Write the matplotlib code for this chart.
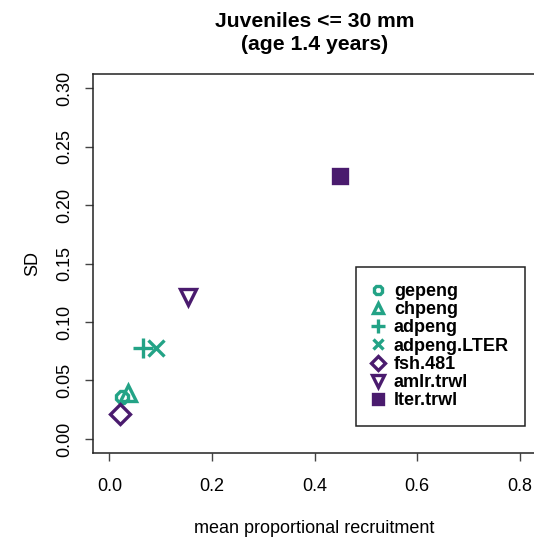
import matplotlib
matplotlib.use("Agg")
import matplotlib.pyplot as plt

plt.rcParams['font.family'] = ['Liberation Sans', 'DejaVu Sans']

# values
series = ["gepeng", "chpeng", "adpeng", "adpeng.LTER", "fsh.481", "amlr.trwl", "lter.trwl"]
mean_recruit = [0.025, 0.037, 0.066, 0.090, 0.021, 0.154, 0.449]
sd_recruit = [0.036, 0.039, 0.078, 0.078, 0.021, 0.121, 0.225]
groups = ["pen", "pen", "pen", "pen", "net", "net", "net"]

xticks = [0.0, 0.2, 0.4, 0.6, 0.8]
xtick_labels = ["0.0", "0.2", "0.4", "0.6", "0.8"]
yticks = [0.00, 0.05, 0.10, 0.15, 0.20, 0.25, 0.30]
ytick_labels = ["0.00", "0.05", "0.10", "0.15", "0.20", "0.25", "0.30"]

TEAL = "#23A386"
PURPLE = "#4A1B6E"
colors = {"pen": TEAL, "net": PURPLE}
markers = ["8", "^", "+", "x", "D", "v", "s"]
sizes = [9, 11, 14, 11, 10, 12, 10]
filled = [False, False, False, False, False, False, True]

fig = plt.figure(figsize=(5.34, 5.41), dpi=100)
ax = fig.add_axes([93 / 534, 88 / 541, 443 / 534, 379 / 541])

for name, x, y, g, m, s, f in zip(series, mean_recruit, sd_recruit, groups,
                                  markers, sizes, filled):
    c = colors[g]
    ax.plot([x], [y], linestyle="none", marker=m, markersize=s,
            markeredgecolor=c, markerfacecolor=c if f else "none",
            markeredgewidth=2.4, label=name, clip_on=False)

ax.set_xlim(-0.032, 0.832)
ax.set_ylim(-0.012, 0.312)
ax.set_xticks(xticks)
ax.set_xticklabels(xtick_labels)
ax.set_yticks(yticks)
ax.set_yticklabels(ytick_labels, rotation=90, va="center")

for sp in ax.spines.values():
    sp.set_linewidth(1.1)
    sp.set_color("#222222")
ax.tick_params(axis="both", direction="out", length=6, width=1.0,
               color="#444444", labelsize=13)
ax.tick_params(axis="x", pad=12)
ax.tick_params(axis="y", pad=8)

ax.set_xlabel("mean proportional recruitment", fontsize=13)
ax.xaxis.set_label_coords(0.5, -0.178)
ax.set_ylabel("SD", fontsize=13)
ax.yaxis.set_label_coords(-0.118, 0.5)

ax.set_title("Juveniles <= 30 mm\n(age 1.4 years)", fontsize=15.2,
             fontweight="bold", pad=17, linespacing=1.3)

leg = ax.legend(loc="lower right", bbox_to_anchor=(0.976, 0.072),
                prop={"weight": "bold", "size": 13}, markerscale=0.7,
                numpoints=1, handlelength=0.6, handletextpad=0.6,
                labelspacing=0.07, borderpad=0.9, borderaxespad=0,
                fancybox=False, framealpha=1, edgecolor="#222222")
leg.get_frame().set_linewidth(1.1)

fig.savefig("out.png", dpi=100)
